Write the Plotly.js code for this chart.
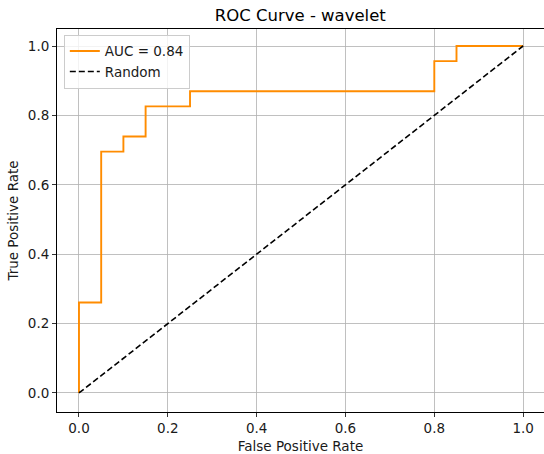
<!DOCTYPE html>
<html><head><meta charset="utf-8">
<script src="https://cdn.plot.ly/plotly-3.0.1.min.js"></script>
<style>html,body{margin:0;padding:0;background:#fff}</style>
</head><body>
<div id="chart" style="width:544px;height:454px"></div>
<script>
const fpr = [0.0, 0.0, 0.05, 0.05, 0.10, 0.10, 0.15, 0.15, 0.25, 0.25, 0.80, 0.80, 0.85, 0.85, 1.0];
const tpr = [0.0, 0.2609, 0.2609, 0.6957, 0.6957, 0.7391, 0.7391, 0.8261, 0.8261, 0.8696, 0.8696, 0.9565, 0.9565, 1.0, 1.0];
const randX = [0, 1];
const randY = [0, 1];
const tickVals = [0, 0.2, 0.4, 0.6, 0.8, 1.0];
const tickText = ['0.0', '0.2', '0.4', '0.6', '0.8', '1.0'];
const aucLabel = 'AUC = 0.84';

const font = {family: 'DejaVu Sans, sans-serif', size: 13.5, color: '#1a1a1a'};
const axisCommon = {
  showgrid: true, gridcolor: '#b0b0b0', gridwidth: 0.8,
  zeroline: false, showline: true, linecolor: '#000', linewidth: 1, mirror: true,
  ticks: 'outside', ticklen: 4, tickcolor: '#000', tickwidth: 0.8,
  tickvals: tickVals, ticktext: tickText, tickfont: font
};
Plotly.newPlot('chart', [
  {x: fpr, y: tpr, mode: 'lines', line: {color: '#ff8c00', width: 1.9, shape: 'linear'}, name: aucLabel},
  {x: randX, y: randY, mode: 'lines', line: {color: '#000', width: 1.6, dash: '6px,3px'}, name: 'Random'}
], {
  width: 544, height: 454,
  margin: {l: 57, r: 0, t: 29, b: 42},
  paper_bgcolor: '#fff', plot_bgcolor: '#fff',
  font: font,
  title: {text: 'ROC Curve - wavelet', font: {family: 'DejaVu Sans, sans-serif', size: 16.5, color: '#000'}, x: 0.552, xanchor: 'center', y: 0.967, yanchor: 'middle'},
  xaxis: Object.assign({}, axisCommon, {range: [-0.0495, 1.047], title: {text: 'False Positive Rate', font: font, standoff: 7}}),
  yaxis: Object.assign({}, axisCommon, {range: [-0.0548, 1.049], title: {text: 'True Positive Rate', font: font, standoff: 6}}),
  legend: {x: 0.014, y: 0.985, xanchor: 'left', yanchor: 'top', bgcolor: 'rgba(255,255,255,0.8)', bordercolor: '#cccccc', borderwidth: 1, font: font, tracegroupgap: 0, itemwidth: 30},
  showlegend: true
}, {staticPlot: true});
</script>
</body></html>
